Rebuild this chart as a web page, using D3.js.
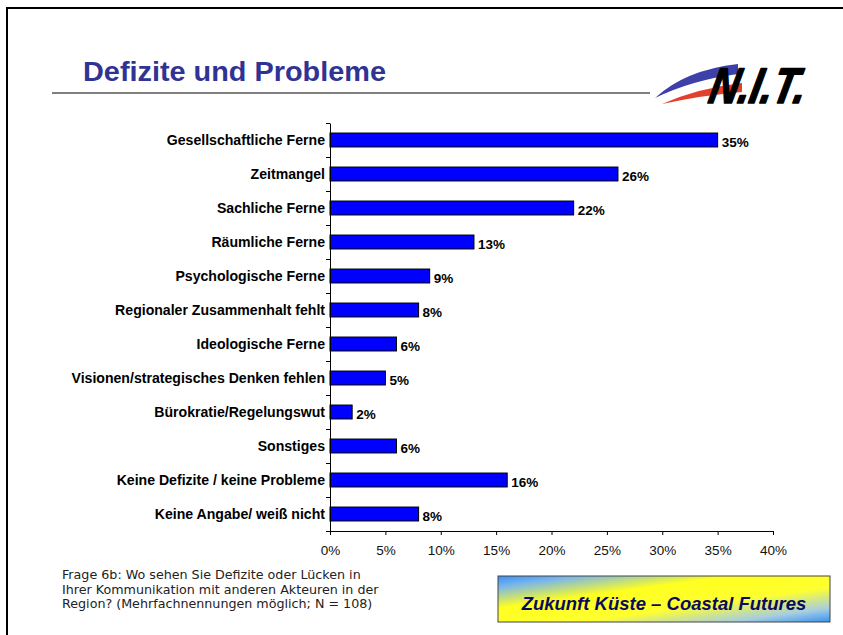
<!DOCTYPE html>
<html>
<head>
<meta charset="utf-8">
<script src="https://cdn.jsdelivr.net/npm/d3@7"></script>
<style>
  html, body { margin: 0; padding: 0; background: #fff; }
  svg { display: block; }
</style>
</head>
<body>
<svg id="chart" width="843" height="635"></svg>
<script>
// Survey answers: share of respondents naming each deficit (N = 108, multiple answers)
const categories = [
  "Gesellschaftliche Ferne",
  "Zeitmangel",
  "Sachliche Ferne",
  "Räumliche Ferne",
  "Psychologische Ferne",
  "Regionaler Zusammenhalt fehlt",
  "Ideologische Ferne",
  "Visionen/strategisches Denken fehlen",
  "Bürokratie/Regelungswut",
  "Sonstiges",
  "Keine Defizite / keine Probleme",
  "Keine Angabe/ weiß nicht"
];
const values = [35, 26, 22, 13, 9, 8, 6, 5, 2, 6, 16, 8];
const xTicks = [0, 5, 10, 15, 20, 25, 30, 35, 40];
const titleText = "Defizite und Probleme";
const footnoteLines = [
  "Frage 6b: Wo sehen Sie Defizite oder Lücken in",
  "Ihrer Kommunikation mit anderen Akteuren in der",
  "Region? (Mehrfachnennungen möglich; N = 108)"
];
const bannerText = "Zukunft Küste – Coastal Futures";
const logoText = "N.I.T.";

const svg = d3.select("#chart");
const FONT = "Liberation Sans, Arial, Helvetica, sans-serif";

// Page frame (open to the right and bottom)
svg.append("rect")
  .attr("x", 7).attr("y", 8).attr("width", 900).attr("height", 700)
  .attr("fill", "none").attr("stroke", "#000").attr("stroke-width", 2);

// Title and rule
svg.append("text")
  .attr("x", 83).attr("y", 81)
  .attr("font-family", FONT).attr("font-weight", "bold")
  .attr("font-size", 27.5).attr("fill", "#2f3394")
  .attr("textLength", 303).attr("lengthAdjust", "spacingAndGlyphs")
  .text(titleText);

svg.append("line")
  .attr("x1", 52).attr("x2", 650).attr("y1", 93).attr("y2", 93)
  .attr("stroke", "#555").attr("stroke-width", 1.5);

// Logo: two swooshes under the heavy italic letters
const logo = svg.append("g");
logo.append("path")
  .attr("d", "M655,98 Q685,70 738,64 L738,74 Q692,80 655,98 Z")
  .attr("fill", "#3c40a8");
logo.append("path")
  .attr("d", "M662,104 Q698,88 742,83 L742,92 Q704,95 662,104 Z")
  .attr("fill", "#e0402c");
logo.append("text")
  .attr("transform", "translate(707,103) skewX(-12)")
  .attr("font-family", FONT).attr("font-weight", "bold").attr("font-style", "italic")
  .attr("font-size", 50).attr("fill", "#000")
  .attr("stroke", "#000").attr("stroke-width", 1.6).attr("stroke-linejoin", "round")
  .attr("textLength", 96).attr("lengthAdjust", "spacingAndGlyphs")
  .text(logoText);

// Scales
const x = d3.scaleLinear().domain([0, 40]).range([330, 773]);
const y = d3.scaleBand().domain(categories).range([123, 531])
  .paddingInner(0.59).paddingOuter(0.295);
const yEdge = d3.scaleLinear().domain([0, categories.length]).range([123, 531]);

// Bars
svg.append("g").selectAll("rect")
  .data(categories)
  .join("rect")
  .attr("x", x(0))
  .attr("y", c => y(c))
  .attr("width", (c, i) => x(values[i]) - x(0))
  .attr("height", y.bandwidth())
  .attr("fill", "#0000ff")
  .attr("stroke", "#000").attr("stroke-width", 1);

// Value labels
svg.append("g").selectAll("text")
  .data(categories)
  .join("text")
  .attr("x", (c, i) => x(values[i]) + 4)
  .attr("y", c => y(c) + y.bandwidth() + 0.5)
  .attr("font-family", FONT).attr("font-weight", "bold")
  .attr("font-size", 13.5).attr("fill", "#000")
  .text((c, i) => values[i] + "%");

// Y axis line with ticks between categories
const yAxisG = svg.append("g")
  .attr("transform", `translate(${x(0)},0)`)
  .call(d3.axisLeft(yEdge).tickValues(d3.range(categories.length + 1))
    .tickSize(4).tickSizeOuter(0).tickFormat(""));
yAxisG.selectAll("path, line").attr("stroke", "#000");

// Category labels
const yLabelG = svg.append("g")
  .attr("transform", `translate(${x(0)},0)`)
  .call(d3.axisLeft(y).tickSize(0).tickPadding(5));
yLabelG.select(".domain").remove();
yLabelG.selectAll("text")
  .attr("font-family", FONT).attr("font-weight", "bold")
  .attr("font-size", 14.1).attr("fill", "#000");

// X axis
const xAxisG = svg.append("g")
  .attr("transform", "translate(0,531)")
  .call(d3.axisBottom(x).tickValues(xTicks).tickFormat(d => d + "%")
    .tickSize(4).tickSizeOuter(0).tickPadding(10));
xAxisG.selectAll("path, line").attr("stroke", "#000");
xAxisG.selectAll("text")
  .attr("font-family", FONT).attr("font-size", 13.5).attr("fill", "#111");

// Question text
svg.append("g").selectAll("text")
  .data(footnoteLines)
  .join("text")
  .attr("x", 62)
  .attr("y", (d, i) => 579 + i * 14.6)
  .attr("font-family", "DejaVu Sans, sans-serif")
  .attr("font-size", 12.7).attr("fill", "#222")
  .text(d => d);

// Project banner
const defs = svg.append("defs");
const grad = defs.append("linearGradient")
  .attr("id", "bannerGrad")
  .attr("x1", 0).attr("y1", 0).attr("x2", 1).attr("y2", 1);
[[0, "#3a8ff5"], [0.12, "#7ab6ea"], [0.35, "#ffff20"], [0.62, "#ffff30"], [0.85, "#a6cde0"], [1, "#3592f5"]]
  .forEach(([o, c]) => grad.append("stop").attr("offset", o).attr("stop-color", c));

svg.append("rect")
  .attr("x", 498).attr("y", 576).attr("width", 332).attr("height", 46)
  .attr("fill", "url(#bannerGrad)")
  .attr("stroke", "#444").attr("stroke-width", 1);
svg.append("text")
  .attr("x", 664).attr("y", 610)
  .attr("text-anchor", "middle")
  .attr("font-family", FONT).attr("font-weight", "bold").attr("font-style", "italic")
  .attr("font-size", 18.5).attr("fill", "#0a0a60")
  .text(bannerText);
</script>
</body>
</html>
